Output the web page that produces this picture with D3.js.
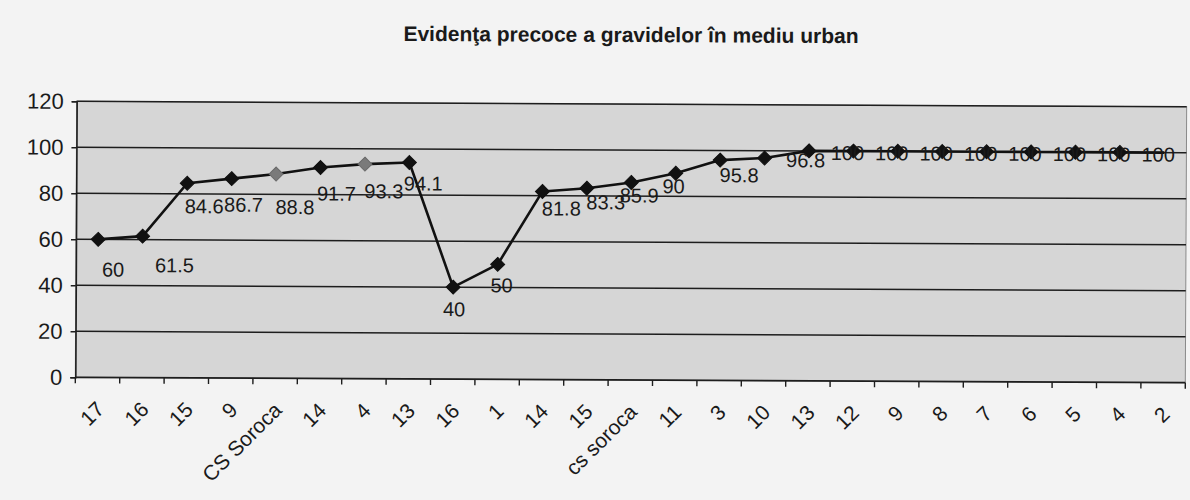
<!DOCTYPE html>
<html>
<head>
<meta charset="utf-8">
<script src="https://cdn.jsdelivr.net/npm/d3@7"></script>
<style>
  html, body { margin: 0; padding: 0; background: #f3f3f3; }
  svg { display: block; }
  text { font-family: "Liberation Sans", Arial, sans-serif; fill: #1a1a1a; }
</style>
</head>
<body>
<svg id="chart" width="1190" height="500"></svg>
<script>
// Early registration of pregnant women, urban medical centres
const categories = ["17", "16", "15", "9", "CS Soroca", "14", "4", "13", "16", "1", "14", "15",
  "cs soroca", "11", "3", "10", "13", "12", "9", "8", "7", "6", "5", "4", "2"];
const values = [60, 61.5, 84.6, 86.7, 88.8, 91.7, 93.3, 94.1, 40, 50, 81.8, 83.3,
  85.9, 90, 95.8, 96.8, 100, 100, 100, 100, 100, 100, 100, 100, 100];
const yTicks = [0, 20, 40, 60, 80, 100, 120];
const title = "Evidenţa precoce a gravidelor în mediu urban";

// label nudges relative to each marker: [dx to text centre, dy to baseline]; null = no label
const labelNudges = [
  [15, 37], [32, 36], [17, 30], [12, 33], [19, 40], [16, 33], [19, 34], [14, 28],
  [1, 29], [4, 28], [19, 24], [19, 21], [8, 20], [-2, 20], [19, 22], [41, 9],
  null, [-6, 9], [-6, 9], [-6, 9], [-6, 9], [-6, 9], [-6, 9], [-6, 9], [-6, 9]
];
// two markers are drawn in a lighter shade, the final point has none
const greyMarkers = new Set([4, 6]);
const noMarker = new Set([24]);

const svg = d3.select("#chart");
const plot = { left: 76, right: 1186, top: 104, bottom: 380 };

// the whole sheet sits very slightly tilted
const root = svg.append("g").attr("transform", "rotate(0.28 631 240)");

const x = d3.scalePoint().domain(d3.range(categories.length))
  .range([plot.left, plot.right]).padding(0.5);
const y = d3.scaleLinear().domain([0, 120]).range([plot.bottom, plot.top]);
const step = x.step();

// title
root.append("text")
  .attr("x", 630).attr("y", 42)
  .attr("text-anchor", "middle")
  .attr("font-size", 21).attr("font-weight", "bold")
  .text(title);

// plot background
root.append("rect")
  .attr("x", plot.left).attr("y", plot.top)
  .attr("width", plot.right - plot.left).attr("height", plot.bottom - plot.top)
  .attr("fill", "#d6d6d6")
  .attr("stroke", "#8a8a8a").attr("stroke-width", 1);

// horizontal gridlines
root.append("g").selectAll("line").data(yTicks.filter(d => d > 0)).join("line")
  .attr("x1", plot.left).attr("x2", plot.right)
  .attr("y1", d => y(d)).attr("y2", d => y(d))
  .attr("stroke", "#1e1e1e").attr("stroke-width", 1.5);

// y axis
const yAxis = root.append("g")
  .attr("transform", `translate(${plot.left},0)`)
  .call(d3.axisLeft(y).tickValues(yTicks).tickSize(5).tickPadding(8));
yAxis.select(".domain").attr("stroke", "#1e1e1e").attr("stroke-width", 1.6);
yAxis.selectAll(".tick line").attr("stroke", "#1e1e1e").attr("stroke-width", 1.4);
yAxis.selectAll(".tick text")
  .attr("font-size", 22).attr("fill", "#1a1a1a")
  .style("font-family", "'Liberation Sans', Arial, sans-serif");

// x axis line with ticks on category boundaries
const xg = root.append("g");
xg.append("line")
  .attr("x1", plot.left).attr("x2", plot.right)
  .attr("y1", plot.bottom).attr("y2", plot.bottom)
  .attr("stroke", "#1e1e1e").attr("stroke-width", 1.8);
xg.selectAll("line.tk").data(d3.range(categories.length + 1)).join("line")
  .attr("class", "tk")
  .attr("x1", i => plot.left + i * step).attr("x2", i => plot.left + i * step)
  .attr("y1", plot.bottom).attr("y2", plot.bottom + 6)
  .attr("stroke", "#1e1e1e").attr("stroke-width", 1.4);
xg.selectAll("text").data(categories).join("text")
  .attr("transform", (d, i) => `translate(${x(i) + 3},${plot.bottom + 28}) rotate(-45)`)
  .attr("text-anchor", "end")
  .attr("dy", "0.35em")
  .attr("font-size", 21)
  .text(d => d);

// series line
const line = d3.line().x((d, i) => x(i)).y(d => y(d));
root.append("path")
  .datum(values)
  .attr("d", line)
  .attr("fill", "none")
  .attr("stroke", "#111")
  .attr("stroke-width", 2.6)
  .attr("stroke-linejoin", "round");

// square diamond markers
const diamond = "M0,-7L7,0L0,7L-7,0Z";
root.append("g").selectAll("path")
  .data(values.map((v, i) => ({ v, i })).filter(d => !noMarker.has(d.i)))
  .join("path")
  .attr("d", diamond)
  .attr("transform", d => `translate(${x(d.i)},${y(d.v)})`)
  .attr("fill", d => greyMarkers.has(d.i) ? "#7a7a7a" : "#111")
  .attr("stroke", d => greyMarkers.has(d.i) ? "#6a6a6a" : "#111")
  .attr("stroke-width", 1);

// value labels
root.append("g").selectAll("text")
  .data(values.map((v, i) => ({ v, i })).filter(d => labelNudges[d.i]))
  .join("text")
  .attr("x", d => x(d.i) + labelNudges[d.i][0])
  .attr("y", d => y(d.v) + labelNudges[d.i][1])
  .attr("text-anchor", "middle")
  .attr("font-size", 20)
  .attr("fill", "#222")
  .text(d => d.v);
</script>
</body>
</html>
